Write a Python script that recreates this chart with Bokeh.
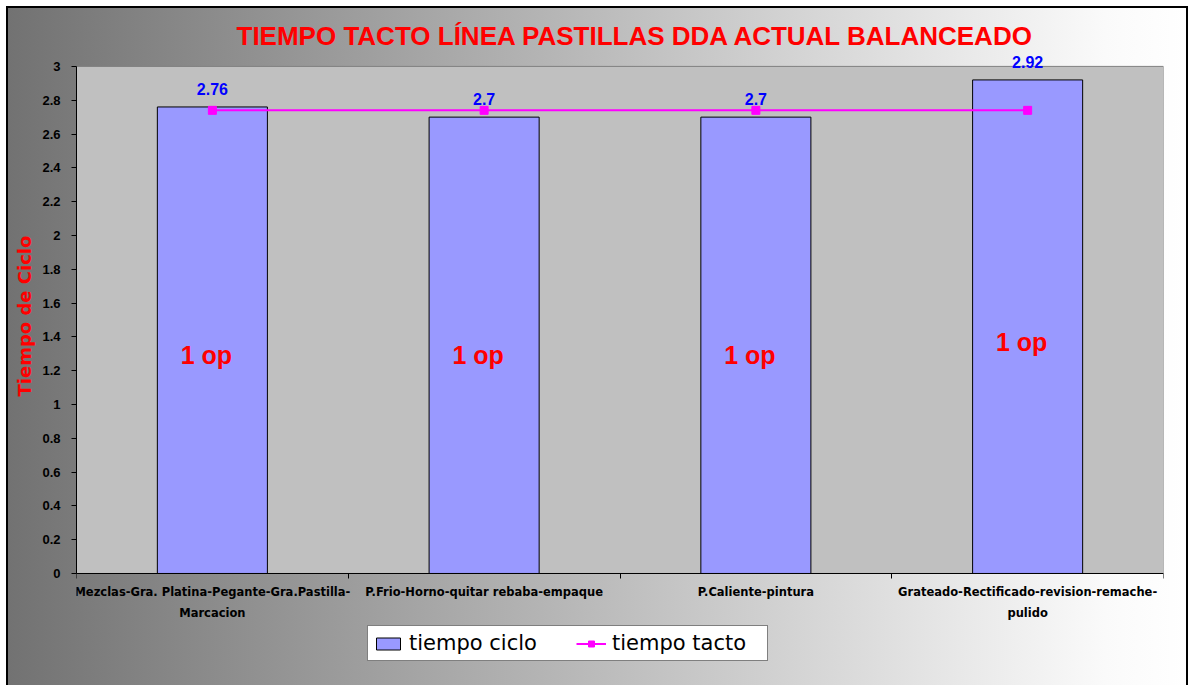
from bokeh.plotting import figure
from bokeh.models import Range1d, FixedTicker, Legend, LegendItem, ColumnDataSource, Title
from bokeh.core.properties import value
from bokeh.embed import file_html
from bokeh.resources import INLINE

# ---- data ----
categorias = [
    "Mezclas-Gra. Platina-Pegante-Gra.Pastilla-\nMarcacion",
    "P.Frio-Horno-quitar rebaba-empaque",
    "P.Caliente-pintura",
    "Grateado-Rectificado-revision-remache-\npulido",
]
tiempo_ciclo = [2.76, 2.7, 2.7, 2.92]
tiempo_tacto = [2.74, 2.74, 2.74, 2.74]
etiquetas_ciclo = ["2.76", "2.7", "2.7", "2.92"]
operarios = ["1 op", "1 op", "1 op", "1 op"]
operarios_y = [1.29, 1.29, 1.29, 1.37]
y_ticks = [0, 0.2, 0.4, 0.6, 0.8, 1, 1.2, 1.4, 1.6, 1.8, 2, 2.2, 2.4, 2.6, 2.8, 3]
y_tick_labels = ["0", "0.2", "0.4", "0.6", "0.8", "1", "1.2", "1.4", "1.6", "1.8",
                 "2", "2.2", "2.4", "2.6", "2.8", "3"]

n = len(categorias)
xs = [i + 0.5 for i in range(n)]
bounds = [i for i in range(n + 1)]

src = ColumnDataSource(dict(x=xs, ciclo=tiempo_ciclo, tacto=tiempo_tacto,
                            lab=etiquetas_ciclo, op=operarios, opy=operarios_y))

# the frame extends above 3 and below 0 so that the value labels, the category
# labels and the legend are drawn inside it; the grey plot area spans 0..3
p = figure(width=1188, height=685, output_backend="svg", toolbar_location=None,
           x_range=Range1d(0, n), y_range=Range1d(-0.645, 3.1),
           min_border_left=76, min_border_right=25, min_border_top=49, min_border_bottom=3)

p.styles = {"background-image": "linear-gradient(to right, #717171 0%, #fafafa 93%, #ffffff 100%)",
            "box-shadow": "inset 6px 6px 0 0 #ffffff, inset 8px 8px 0 0 #000000, inset -2px 0 0 0 #000000"}
p.border_fill_color = None
p.background_fill_color = None
p.outline_line_color = None
p.grid.visible = False

# title
p.title.text = "TIEMPO TACTO LÍNEA PASTILLAS DDA ACTUAL BALANCEADO"
p.title.align = "left"
p.title.offset = 160
p.title.text_color = "#FF0000"
p.title.text_font = "Liberation Sans"
p.title.text_font_size = "26px"
p.title.text_font_style = "bold"
p.title.standoff = -2

# plot area (grey)
p.quad(left=[bounds[0]], right=[bounds[-1]], bottom=[y_ticks[0]], top=[y_ticks[-1]],
       fill_color="#C0C0C0", line_color="#808080", line_width=1)

# bars
bars = p.vbar(x="x", top="ciclo", width=0.405, source=src,
              fill_color="#9999FF", line_color="black", line_width=1)
# tacto line
ln = p.line(x="x", y="tacto", source=src, line_color="#FF00FF", line_width=2)
mk = p.scatter(x="x", y="tacto", source=src, marker="square", size=8,
               fill_color="#FF00FF", line_color="#FF00FF")

# value labels
p.text(x="x", y="ciclo", text="lab", source=src, text_align="center",
       text_baseline="alphabetic", y_offset=-18, text_color="#0000FF",
       text_font=value("Liberation Sans"), text_font_size="16px", text_font_style="bold")
p.text(x="x", y="opy", text="op", source=src, text_align="center",
       text_baseline="alphabetic", x_offset=-6, text_color="#FF0000",
       text_font=value("Liberation Sans"), text_font_size="25px", text_font_style="bold")

# y axis
ya = p.yaxis[0]
ya.ticker = FixedTicker(ticks=y_ticks)
ya.bounds = (y_ticks[0], y_ticks[-1])
ya.major_label_overrides = dict(zip(y_ticks, y_tick_labels))
ya.major_label_text_font = "Liberation Sans"
ya.major_label_text_font_size = "13px"
ya.major_label_text_font_style = "bold"
ya.major_label_text_color = "black"
ya.major_label_standoff = 11
ya.major_tick_in = 0
ya.major_tick_out = 5
ya.minor_tick_line_color = None
ya.axis_line_color = "black"

# y axis title (vertical, placed alongside the 0..3 span)
ytitle = Title(text="Tiempo de Ciclo", align="left", offset=286, standoff=9,
               text_color="#FF0000", text_font="DejaVu Sans",
               text_font_size="18px", text_font_style="bold")
p.add_layout(ytitle, "left")

# x axis, fixed at y = 0
xa = p.xaxis[0]
xa.fixed_location = y_ticks[0]
xa.ticker = FixedTicker(ticks=xs, minor_ticks=bounds)
xa.major_label_overrides = dict(zip(xs, categorias))
xa.major_tick_line_color = None
xa.major_tick_in = 0
xa.major_tick_out = 0
xa.minor_tick_in = 0
xa.minor_tick_out = 5
xa.minor_tick_line_color = "black"
xa.major_label_standoff = 7
xa.major_label_text_font = "DejaVu Sans"
xa.major_label_text_font_size = "11.5px"
xa.major_label_text_font_style = "bold"
xa.major_label_text_color = "black"
xa.major_label_text_line_height = 1.5
xa.axis_line_color = "black"

# legend
legend = Legend(items=[LegendItem(label="tiempo ciclo", renderers=[bars]),
                       LegendItem(label="tiempo tacto", renderers=[ln, mk])],
                orientation="horizontal", location=(291, 21),
                label_text_font="DejaVu Sans", label_text_font_size="21px",
                label_text_color="black", label_standoff=6, label_width=150,
                glyph_width=30, glyph_height=15, spacing=17, padding=5, margin=0,
                background_fill_color="white", background_fill_alpha=1,
                border_line_color="black", border_line_width=1)
p.add_layout(legend, "center")

open("out.html", "w").write(file_html(p, INLINE))
